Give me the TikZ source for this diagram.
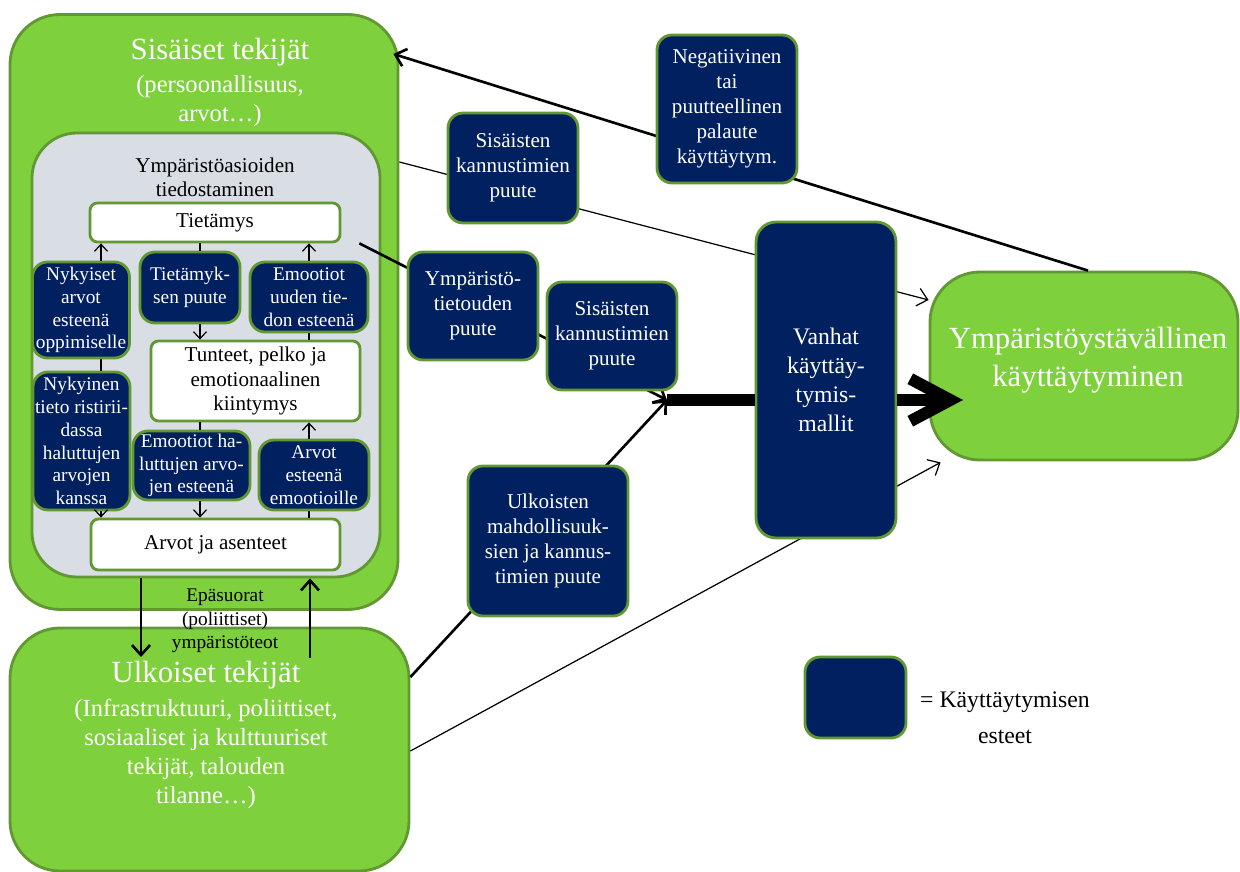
\documentclass[tikz,border=0pt]{standalone}
\usepackage{fontspec}
\setmainfont{Liberation Serif}
\usetikzlibrary{arrows.meta,calc}

\definecolor{leafgreen}{RGB}{126,208,60}
\definecolor{edgegreen}{RGB}{98,152,50}
\definecolor{barriernavy}{RGB}{0,32,96}
\definecolor{mistgray}{RGB}{217,221,228}

\tikzset{
  factorbox/.style={draw=edgegreen, line width=1.6pt, fill=leafgreen, rounded corners=10mm, inner sep=0pt, text=white, align=center},
  awarebox/.style={draw=edgegreen, line width=1.6pt, fill=mistgray, rounded corners=9mm, inner sep=0pt},
  knowbox/.style={draw=edgegreen, line width=1.6pt, fill=white, rounded corners=1.5mm, inner sep=0pt, align=center, font=\fontsize{12}{14}\selectfont},
  barrier/.style={draw=edgegreen, line width=1.6pt, fill=barriernavy, text=white, rounded corners=3mm, inner sep=0pt, align=center, font=\fontsize{12}{14.2}\selectfont},
  smallbarrier/.style={barrier, font=\fontsize{11}{13}\selectfont},
  thinlink/.style={line width=0.7pt},
  boldlink/.style={line width=1.5pt},
  barbed/.style={-{Straight Barb[length=2mm,width=3.6mm]}},
  smallbarbed/.style={-{Straight Barb[length=1.4mm,width=2.6mm]}},
  mainflow/.style={line width=6.8pt},
}

\begin{document}
\begin{tikzpicture}[x=0.2mm, y=-0.2mm]
  \useasboundingbox (0,0) rectangle (1240,872);

  \node [factorbox, minimum width=77.6mm, minimum height=119mm] (sisaiset) at (204, 312) {};
  \node [text=white, font=\fontsize{17.5}{21}\selectfont] (sisTitle) at (220, 52) {Sisäiset tekijät};
  \node [text=white, align=center, font=\fontsize{14}{16.5}\selectfont] (sisSub) at (220, 101) {(persoonallisuus,\\arvot…)};

  \node [awarebox, minimum width=69.6mm, minimum height=88.8mm] (tiedost) at (206, 355) {};
  \node [align=center, font=\fontsize{12}{13.5}\selectfont] (tiedTxt) at (215, 177) {Ympäristöasioiden\\tiedostaminen};

  \node [knowbox, minimum width=50mm, minimum height=7.8mm] (tietamys) at (215, 222.5) {Tietämys};
  \node [knowbox, minimum width=41.8mm, minimum height=16mm] (tunteet) at (255.5, 381) {Tunteet, pelko ja\\emotionaalinen\\kiintymys};
  \node [knowbox, minimum width=49.8mm, minimum height=10.2mm] (arvot) at (215.5, 544.5) {Arvot ja asenteet};

  \node [smallbarrier, minimum width=19.4mm, minimum height=19.2mm] (nykyArvot) at (81, 310) {Nykyiset\\arvot\\esteenä\\oppimiselle};
  \node [smallbarrier, minimum width=20mm, minimum height=14.2mm] (tietPuute) at (190, 287.5) {Tietämyk-\\sen puute};
  \node [smallbarrier, minimum width=23.6mm, minimum height=14mm] (emoUusi) at (309, 297) {Emootiot\\uuden tie-\\don esteenä};
  \node [smallbarrier, minimum width=19.4mm, minimum height=27.6mm] (nykyTieto) at (81.5, 441) {Nykyinen\\tieto ristirii-\\dassa\\haluttujen\\arvojen\\kanssa};
  \node [smallbarrier, minimum width=23.4mm, minimum height=13.8mm] (emoHalu) at (191.5, 465.5) {Emootiot ha-\\luttujen arvo-\\jen esteenä};
  \node [smallbarrier, minimum width=22mm, minimum height=14mm] (arvotEste) at (314, 475) {Arvot\\esteenä\\emootioille};

  \coordinate (colL) at (101, 0);
  \coordinate (colM) at (200, 0);
  \coordinate (colR) at (309, 0);
  \draw [thinlink, smallbarbed] (nykyArvot.north -| colL) -- (tietamys.south -| colL);
  \draw [thinlink] (nykyArvot.south -| colL) -- (nykyTieto.north -| colL);
  \draw [thinlink, smallbarbed] (nykyTieto.south -| colL) -- (arvot.north -| colL);
  \draw [thinlink] (tietamys.south -| colM) -- (tietPuute.north -| colM);
  \draw [thinlink, smallbarbed] (tietPuute.south -| colM) -- (tunteet.north -| colM);
  \draw [thinlink] (tunteet.south -| colM) -- (emoHalu.north -| colM);
  \draw [thinlink, smallbarbed] (emoHalu.south -| colM) -- (arvot.north -| colM);
  \draw [thinlink, smallbarbed] (emoUusi.north -| colR) -- (tietamys.south -| colR);
  \draw [thinlink] (emoUusi.south -| colR) -- (tunteet.north -| colR);
  \draw [thinlink, smallbarbed] (arvotEste.north -| colR) -- (tunteet.south -| colR);
  \draw [thinlink] (arvot.north -| colR) -- (arvotEste.south -| colR);

  \node [factorbox, minimum width=79.8mm, minimum height=48.6mm] (ulkoiset) at (209.5, 749.5) {};
  \node [text=white, font=\fontsize{17.5}{21}\selectfont] (ulkTitle) at (206, 675) {Ulkoiset tekijät};
  \node [text=white, align=center, font=\fontsize{14}{16.5}\selectfont] (ulkSub) at (206, 754) {(Infrastruktuuri, poliittiset,\\sosiaaliset ja kulttuuriset\\tekijät, talouden\\tilanne…)};

  \node [factorbox, minimum width=61.6mm, minimum height=37.6mm] (ympYst) at (1084, 366) {};
  \node [text=white, align=center, font=\fontsize{17.5}{21.5}\selectfont] (ympTxt) at (1088, 360) {Ympäristöystävällinen\\käyttäytyminen};

  \coordinate (jct) at (667, 400);
  \coordinate (goal) at (963, 400);
  \draw [boldlink, barbed] (ympYst.north -| 1088,0) -- ($(sisaiset.east |- 0,54)+(-6,0)$);
  \draw [thinlink, barbed] (sisaiset.east |- 0,162) -- (ympYst.west |- 0,300);
  \draw [boldlink, barbed] ($(tietamys.south east)+(18,0)$) -- (jct);
  \draw [boldlink, barbed] (ulkoiset.east |- 0,677) -- (jct);
  \draw [thinlink, barbed] (ulkoiset.east |- 0,751) -- ($(ympYst.south west)+(12,1)$);

  \node [barrier, minimum width=28mm, minimum height=29.6mm] (negat) at (727, 109) {Negatiivinen\\tai\\puutteellinen\\palaute\\käyttäytym.};
  \node [barrier, minimum width=26mm, minimum height=22mm] (sisKann1) at (513, 168) {Sisäisten\\kannustimien\\puute};
  \node [barrier, minimum width=26mm, minimum height=21.6mm] (ymparTiet) at (473, 306) {Ympäristö-\\tietouden\\puute};
  \node [barrier, minimum width=26mm, minimum height=21.6mm] (sisKann2) at (612, 336) {Sisäisten\\kannustimien\\puute};
  \node [barrier, minimum width=32mm, minimum height=30mm] (ulkMahd) at (548, 541) {Ulkoisten\\mahdollisuuk-\\sien ja kannus-\\timien puute};
  \node [barrier, rounded corners=4mm, minimum width=28mm, minimum height=63.2mm, font=\fontsize{13.5}{16.6}\selectfont] (vanhat) at (826, 380) {Vanhat\\käyttäy-\\tymis-\\mallit};

  \draw [mainflow] (jct) -- (vanhat.west |- jct);
  \draw [mainflow, -{Straight Barb[length=8mm,width=8.5mm]}] (vanhat.east |- jct) -- (goal);

  \coordinate (epaL) at (141, 657);
  \coordinate (epaR) at (310, 658);
  \draw [boldlink, barbed] (tiedost.south -| epaL) -- (epaL);
  \draw [boldlink, barbed] (epaR) -- (tiedost.south -| epaR);
  \node [align=center, font=\fontsize{11}{13.3}\selectfont] (epaTxt) at (225, 621) {Epäsuorat\\(poliittiset)\\ympäristöteot};

  \node [barrier, minimum width=20.2mm, minimum height=16.2mm] (legend) at (855.5, 697.5) {};
  \node [align=center, font=\fontsize{13.5}{16.2}\selectfont] (legTxt) at (1005, 718) {= Käyttäytymisen\\[4.2pt]esteet};
\end{tikzpicture}
\end{document}
